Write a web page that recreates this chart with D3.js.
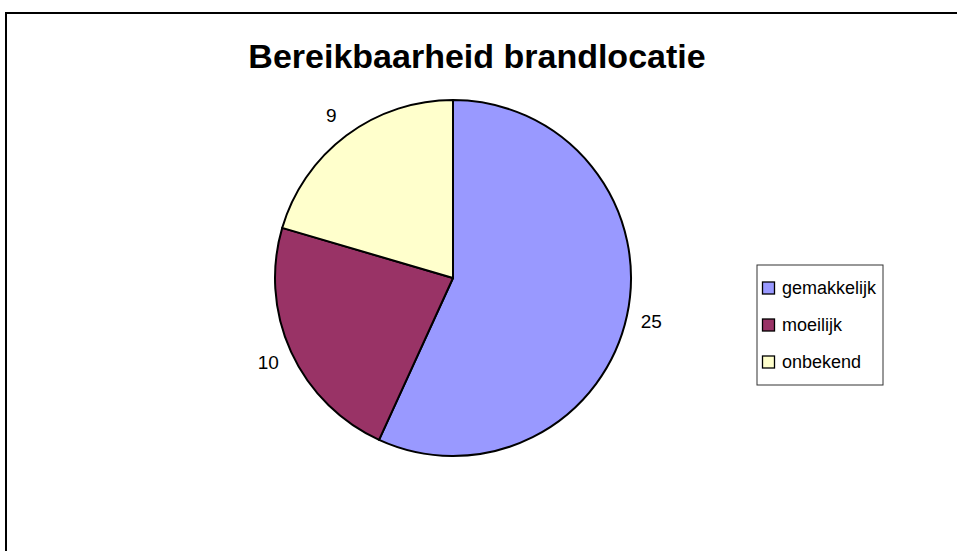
<!DOCTYPE html>
<html>
<head>
<meta charset="utf-8">
<script src="https://cdn.jsdelivr.net/npm/d3@7"></script>
<style>
  body { margin: 0; background: #fff; }
  text { font-family: "Liberation Sans", Arial, sans-serif; }
</style>
</head>
<body>
<div id="chart"></div>
<script>
// data
var categories = ["gemakkelijk", "moeilijk", "onbekend"];
var values = [25, 10, 9];
var colors = ["#9999ff", "#993366", "#ffffcc"];
var title = "Bereikbaarheid brandlocatie";

var width = 957, height = 551;
var cx = 453, cy = 278, radius = 178, labelRadius = 203;

var svg = d3.select("#chart").append("svg")
    .attr("width", width)
    .attr("height", height);

// kader van de grafiek (rechts en onder buiten beeld)
svg.append("rect")
    .attr("x", 6).attr("y", 13)
    .attr("width", 1000).attr("height", 600)
    .attr("fill", "#fff")
    .attr("stroke", "#000")
    .attr("stroke-width", 2);

svg.append("text")
    .attr("x", 477).attr("y", 68)
    .attr("text-anchor", "middle")
    .style("font-size", "34px")
    .style("font-weight", "bold")
    .text(title);

var data = categories.map(function (c, i) { return { name: c, value: values[i], color: colors[i] }; });

var pie = d3.pie().sort(null).value(function (d) { return d.value; });
var arc = d3.arc().innerRadius(0).outerRadius(radius);
var labelArc = d3.arc().innerRadius(labelRadius).outerRadius(labelRadius);

var g = svg.append("g").attr("transform", "translate(" + cx + "," + cy + ")");

var slices = pie(data);
g.selectAll("path")
    .data(slices)
    .enter().append("path")
    .attr("d", arc)
    .attr("fill", function (d) { return d.data.color; })
    .attr("stroke", "#000")
    .attr("stroke-width", 2)
    .attr("stroke-linejoin", "round");

// waarde labels
g.selectAll("text.lbl")
    .data(slices)
    .enter().append("text")
    .attr("class", "lbl")
    .attr("x", function (d) { return labelArc.centroid(d)[0]; })
    .attr("y", function (d) { return labelArc.centroid(d)[1]; })
    .attr("text-anchor", "middle")
    .attr("dy", "0.35em")
    .style("font-size", "19px")
    .text(function (d) { return d.data.value; });

// legenda
var legend = svg.append("g").attr("transform", "translate(757,265)");
legend.append("rect")
    .attr("x", 0).attr("y", 0)
    .attr("width", 126).attr("height", 120)
    .attr("fill", "#fff")
    .attr("stroke", "#333")
    .attr("stroke-width", 1);

var ly = d3.scalePoint().domain(categories).range([23, 97]);
var items = legend.selectAll("g.item")
    .data(data)
    .enter().append("g")
    .attr("class", "item")
    .attr("transform", function (d) { return "translate(5," + ly(d.name) + ")"; });
items.append("rect")
    .attr("x", 0.5).attr("y", -6)
    .attr("width", 12).attr("height", 12)
    .attr("fill", function (d) { return d.color; })
    .attr("stroke", "#000")
    .attr("stroke-width", 1.3);
items.append("text")
    .attr("x", 20).attr("y", 0)
    .attr("dy", "0.35em")
    .style("font-size", "18px")
    .text(function (d) { return d.name; });
</script>
</body>
</html>
